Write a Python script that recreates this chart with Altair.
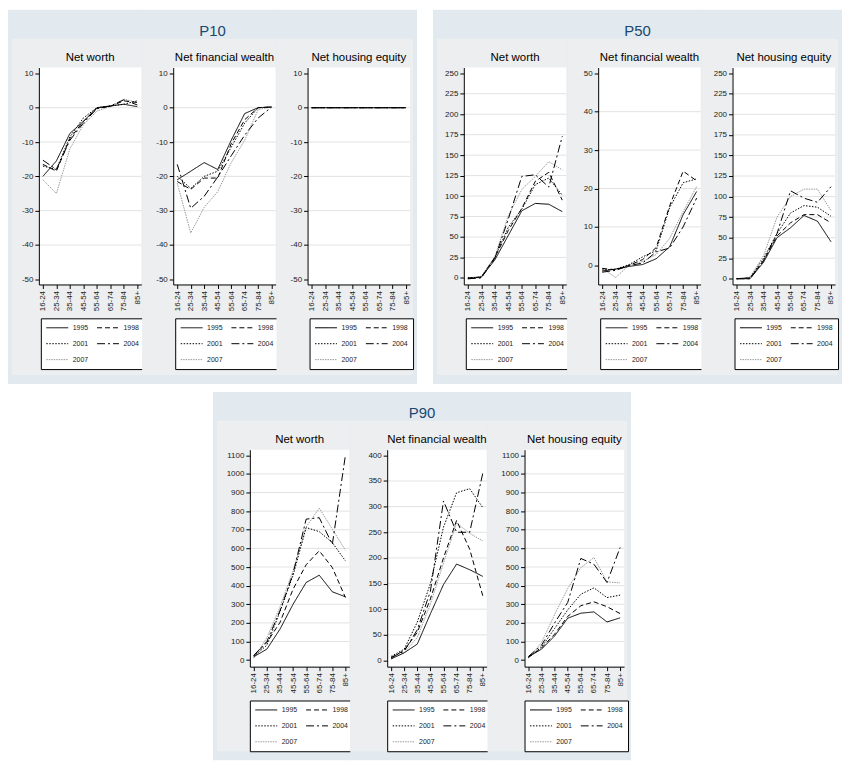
import altair as alt
import pandas as pd

ages = ["16-24", "25-34", "35-44", "45-54", "55-64", "65-74", "75-84", "85+"]
years = ["1995", "1998", "2001", "2004", "2007"]

# one list per year (1995, 1998, 2001, 2004, 2007), one value per age group
p10_net_worth = [
    [-20, -15.5, -7.5, -4, 0, 0.5, 1, 0.3],
    [-16.5, -18.5, -9, -4, -0.2, 0.4, 2, 1.5],
    [-17, -18, -8.5, -3, 0, 0.5, 1, 2],
    [-15.3, -18, -9.5, -4.5, -0.3, 0.5, 2.3, 0.8],
    [-21, -25, -12, -5, -1, 0.3, 2.5, 1.5],
]
p10_fin_wealth = [
    [-21, -18.5, -16, -18, -9.5, -1.7, 0, 0.2],
    [-21.5, -23.8, -20.5, -20.5, -10.5, -3.5, 0, 0.2],
    [-20, -23.5, -20, -18.5, -11.5, -4.5, 0, 0.2],
    [-16.5, -29.3, -25.8, -20.2, -14, -8, -3, 0.2],
    [-22, -36.5, -29, -24.5, -16, -9.5, -0.5, 0.2],
]
p10_housing = [
    [0, 0, 0, 0, 0, 0, 0, 0],
    [0, 0, 0, 0, 0, 0, 0, 0],
    [0, 0, 0, 0, 0, 0, 0, 0],
    [0, 0, 0, 0, 0, 0, 0, 0],
    [0, 0, 0, 0, 0, 0, 0, 0],
]
p50_net_worth = [
    [-1, 1, 22, 52, 82, 91, 90, 81],
    [0, 1, 25, 58, 85, 118, 129, 95],
    [0, 1, 25, 62, 84, 114, 122, 101],
    [-1, 0, 24, 72, 124, 126, 111, 173],
    [0, 2, 26, 76, 108, 124, 142, 132],
]
p50_fin_wealth = [
    [-1.5, -1.0, -0.3, 0.2, 1.7, 4.8, 13.2, 19.2],
    [-0.8, -1.2, 0.0, 1.5, 4.6, 15.5, 24.5, 22.0],
    [-1.2, -1.0, 0.2, 2.2, 3.8, 15.0, 21.5, 22.5],
    [-1.8, -1.3, -0.1, 0.6, 3.5, 4.5, 10.0, 17.5],
    [-0.8, -3.2, 0.1, 1.0, 2.8, 7.0, 14.0, 20.5],
]
p50_housing = [
    [0, 0, 20, 50, 62, 77, 70, 45],
    [0, 1, 22, 52, 68, 78, 78, 68],
    [0, 1, 25, 55, 80, 89, 87, 76],
    [0, 0, 22, 55, 107, 98, 93, 112],
    [0, 2, 28, 75, 100, 109, 109, 83],
]
p90_net_worth = [
    [18, 59, 166, 300, 417, 456, 367, 340],
    [23, 95, 202, 381, 512, 587, 497, 336],
    [20, 80, 260, 455, 712, 690, 631, 533],
    [25, 100, 265, 465, 757, 765, 622, 1100],
    [10, 120, 285, 480, 715, 816, 703, 590],
]
p90_fin_wealth = [
    [3, 15, 32, 91, 148, 188, 177, 164],
    [5, 20, 55, 120, 200, 273, 217, 126],
    [8, 22, 75, 150, 260, 327, 335, 298],
    [6, 18, 60, 135, 311, 250, 250, 365],
    [4, 15, 45, 110, 190, 268, 248, 233],
]
p90_housing = [
    [18, 59, 130, 225, 252, 259, 205, 227],
    [15, 65, 140, 235, 292, 313, 287, 250],
    [15, 70, 170, 270, 354, 388, 336, 349],
    [20, 80, 200, 310, 546, 515, 417, 605],
    [10, 95, 245, 385, 497, 551, 420, 415],
]

p10_ticks = list(range(-50, 11, 10))
p50_wide_ticks = list(range(0, 251, 25))
p50_fin_ticks = list(range(0, 51, 10))
p90_wide_ticks = list(range(0, 1101, 100))
p90_fin_ticks = list(range(0, 401, 50))

titles = ["Net worth", "Net financial wealth", "Net housing equity"]

FONT = "Liberation Sans"
OUTER = "#e2eaef"
INNER = "#eceeef"
GRID = "#e2e2e2"
PLOT_H = 218
TOP = -58

line_colors = ["black", "black", "black", "black", "#999999"]
line_dashes = [[1, 0], [5, 3], [1.5, 1.5], [8, 3, 2, 3], [1.5, 1]]


def panel(values, ticks, domain, title, geo, pos, group_title=None):
    W, H = geo["w"], PLOT_H
    left = -geo["left"]
    right = geo["pitch"] - geo["left"] + (geo["extra"] if pos == 2 else 1)
    bottom = H + geo["bottom"]
    one = pd.DataFrame({"k": [0]})

    # later years first so that 1995 is drawn on top
    rows = [
        {"age": a, "year": y, "value": v}
        for y, series in reversed(list(zip(years, values)))
        for a, v in zip(ages, series)
    ]

    y_enc = alt.Y(
        "value:Q",
        scale=alt.Scale(domain=domain, nice=False, zero=False),
        axis=alt.Axis(
            values=ticks, title=None, grid=False, domainColor="black",
            tickColor="black", tickSize=4, labelFontSize=8, labelFont=FONT,
            labelColor="#222222", labelPadding=2, labelExpr="'' + datum.value",
            labelOverlap=False, zindex=1,
        ),
    )
    legend = alt.Legend(
        orient="none", legendX=geo["lx"], legendY=H + 34, columns=2,
        direction="horizontal", title=None, fillColor="white",
        strokeColor="black", padding=5, symbolType="stroke", symbolSize=484,
        symbolStrokeWidth=1, labelFontSize=7, labelFont=FONT,
        labelColor="#222222", labelOffset=4, columnPadding=8, rowPadding=7,
        clipHeight=9, cornerRadius=0, symbolOffset=0,
    )

    outer = alt.Chart(one).mark_rect(color=OUTER).encode(
        x=alt.value(left), x2=alt.value(right), y=alt.value(TOP), y2=alt.value(bottom)
    )
    inner = alt.Chart(one).mark_rect(color=INNER).encode(
        x=alt.value(left + (4 if pos == 0 else 0)),
        x2=alt.value(right - (4 if pos == 2 else 0)),
        y=alt.value(TOP + 29),
        y2=alt.value(bottom - 9),
    )
    white = alt.Chart(one).mark_rect(color="white").encode(
        x=alt.value(0), x2=alt.value(W), y=alt.value(0), y2=alt.value(H)
    )
    grid = alt.Chart(pd.DataFrame({"value": ticks[1:-1]})).mark_rule(
        color=GRID, strokeWidth=1
    ).encode(y=y_enc, x=alt.value(0), x2=alt.value(W))

    lines = alt.Chart(pd.DataFrame(rows)).mark_line(strokeWidth=1).encode(
        x=alt.X(
            "age:N", sort=ages, scale=alt.Scale(type="point", padding=0.3),
            axis=alt.Axis(
                title=None, labelAngle=270, labelFontSize=8, labelFont=FONT,
                labelColor="#222222", tickSize=4, tickColor="black",
                domainColor="black", labelPadding=2, grid=False,
                labelOverlap=False, zindex=1,
            ),
        ),
        y=y_enc,
        color=alt.Color("year:N", scale=alt.Scale(domain=years, range=line_colors), legend=legend),
        strokeDash=alt.StrokeDash("year:N", scale=alt.Scale(domain=years, range=line_dashes), legend=legend),
    )

    sub = alt.Chart(one).mark_text(
        text=title, font=FONT, fontSize=11.5, color="black", baseline="middle", align="center"
    ).encode(x=alt.value(W / 2), y=alt.value(-10))

    layers = [outer, inner, white, grid, lines, sub]
    if group_title:
        cx = geo["pitch"] / 2 - geo["left"] + geo["extra"] / 2
        layers.append(
            alt.Chart(one).mark_text(
                text=group_title, font=FONT, fontSize=15, color="#1a476f",
                baseline="middle", align="center",
            ).encode(x=alt.value(cx), y=alt.value(TOP + 21))
        )
    return alt.layer(*layers).properties(width=W, height=H)


def group(name, series, tick_sets, domains, geo):
    charts = [
        panel(series[i], tick_sets[i], domains[i], titles[i], geo, i,
              name if i == 1 else None)
        for i in range(3)
    ]
    return (
        alt.hconcat(*charts, spacing=geo["pitch"] - geo["w"], bounds="flush")
        .resolve_scale(color="independent", strokeDash="independent")
        .resolve_legend(color="independent", strokeDash="independent")
    )


geo_top = {"w": 103, "left": 31, "pitch": 135, "extra": 6, "bottom": 100, "lx": 2}
geo_bottom = {"w": 100, "left": 37, "pitch": 138, "extra": 6, "bottom": 94, "lx": 0}

g10 = group(
    "P10",
    [p10_net_worth, p10_fin_wealth, p10_housing],
    [p10_ticks, p10_ticks, p10_ticks],
    [[-51.5, 11.7], [-51.5, 11.7], [-51.5, 11.7]],
    geo_top,
)
g50 = group(
    "P50",
    [p50_net_worth, p50_fin_wealth, p50_housing],
    [p50_wide_ticks, p50_fin_ticks, p50_wide_ticks],
    [[-8, 257], [-5, 51.5], [-7, 257]],
    geo_top,
)
g90 = group(
    "P90",
    [p90_net_worth, p90_fin_wealth, p90_housing],
    [p90_wide_ticks, p90_fin_ticks, p90_wide_ticks],
    [[-35, 1130], [-12, 411], [-35, 1130]],
    geo_bottom,
)

top_row = (
    alt.hconcat(g10, g50, spacing=16)
    .resolve_scale(color="independent", strokeDash="independent")
    .resolve_legend(color="independent", strokeDash="independent")
)

chart = (
    alt.vconcat(top_row, g90, spacing=8, center=True)
    .resolve_scale(color="independent", strokeDash="independent")
    .resolve_legend(color="independent", strokeDash="independent")
    .properties(padding=0, background="white")
    .configure(font=FONT)
    .configure_view(stroke=None)
)

chart.save("out.html", embed_options={"renderer": "svg", "actions": False})
